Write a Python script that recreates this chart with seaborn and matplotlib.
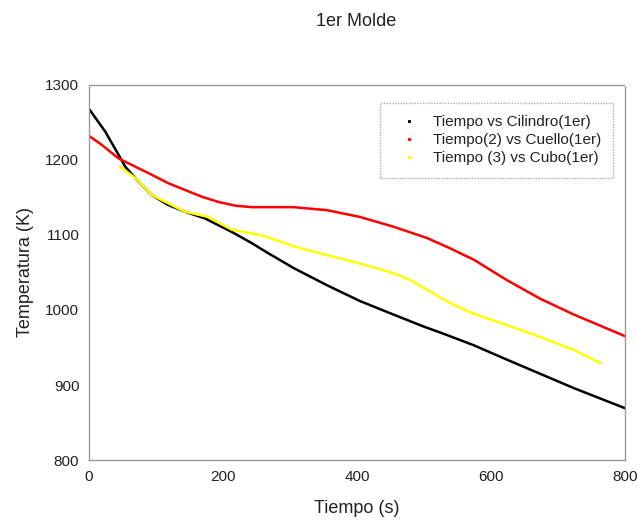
import numpy as np
import pandas as pd
import matplotlib
matplotlib.use("Agg")
import matplotlib.pyplot as plt
from matplotlib.lines import Line2D
import seaborn as sns

# Data
t_cil = [0, 24, 44, 54, 74, 94, 118, 143, 173, 193, 213, 243, 263, 305, 355, 404, 454, 499, 524, 574, 623, 673, 723, 800]
T_cil = [1268, 1238, 1207, 1191, 1171, 1153, 1140, 1131, 1122, 1113, 1104, 1089, 1078, 1056, 1033, 1012, 994, 978, 970, 953, 934, 915, 896, 869]

t_cue = [0, 19, 44, 69, 94, 118, 143, 168, 193, 218, 243, 263, 305, 355, 404, 454, 504, 539, 574, 623, 673, 723, 800]
T_cue = [1232, 1220, 1202, 1191, 1180, 1169, 1160, 1151, 1144, 1139, 1137, 1137, 1137, 1133, 1124, 1111, 1096, 1082, 1067, 1040, 1015, 994, 965]

t_cub = [46, 69, 94, 143, 178, 213, 243, 263, 305, 355, 404, 454, 479, 504, 539, 574, 623, 673, 723, 763]
T_cub = [1191, 1176, 1153, 1131, 1124, 1107, 1102, 1098, 1085, 1073, 1062, 1049, 1040, 1027, 1009, 995, 980, 964, 947, 929]

labels = ["Tiempo vs Cilindro(1er)", "Tiempo(2) vs Cuello(1er)", "Tiempo (3) vs Cubo(1er)"]
colors = ["#000000", "#ff0000", "#ffff00"]

df = pd.concat([
    pd.DataFrame({"t": t_cil, "T": T_cil, "serie": labels[0]}),
    pd.DataFrame({"t": t_cue, "T": T_cue, "serie": labels[1]}),
    pd.DataFrame({"t": t_cub, "T": T_cub, "serie": labels[2]}),
])

sns.set_theme(style="white")
plt.rcParams['font.family'] = ['Liberation Sans', 'DejaVu Sans']

fig = plt.figure(figsize=(6.38, 5.27), dpi=100)
ax = fig.add_axes([0.1395, 0.127, 0.8405, 0.712])

sns.lineplot(data=df, x="t", y="T", hue="serie", palette=dict(zip(labels, colors)),
             sort=False, linewidth=1.8, ax=ax, legend=False)

ax.set_xlim(0, 800)
ax.set_ylim(800, 1300)
ax.set_xticks([0, 200, 400, 600, 800])
ax.set_yticks([800, 900, 1000, 1100, 1200, 1300])
ax.tick_params(axis="both", labelsize=11, length=4, width=0.8, color="#888888",
               direction="inout", pad=5, labelcolor="#222222")
for s in ax.spines.values():
    s.set_color("#999999")
    s.set_linewidth(1)
    s.set_linestyle((0, (1, 1)))

ax.set_xlabel("Tiempo (s)", fontsize=13, labelpad=12, color="#222222")
ax.set_ylabel("Temperatura (K)", fontsize=13, labelpad=8, color="#222222")
fig.suptitle("1er Molde", fontsize=13, x=0.558, y=0.975, color="#222222")

handles = [Line2D([], [], linestyle="none", marker="s", markersize=1.2,
                  color=c) for c in colors]
leg = ax.legend(handles, labels, loc="upper right", bbox_to_anchor=(0.978, 0.952),
                fontsize=11, frameon=True, fancybox=False, handlelength=2.1,
                handletextpad=0.53, borderpad=0.82, labelspacing=0.26,
                borderaxespad=0)
for txt in leg.get_texts():
    txt.set_color("#222222")
leg.get_frame().set_edgecolor("#999999")
leg.get_frame().set_linestyle((0, (1, 1)))
leg.get_frame().set_linewidth(1)

fig.savefig("out.png", dpi=100)
